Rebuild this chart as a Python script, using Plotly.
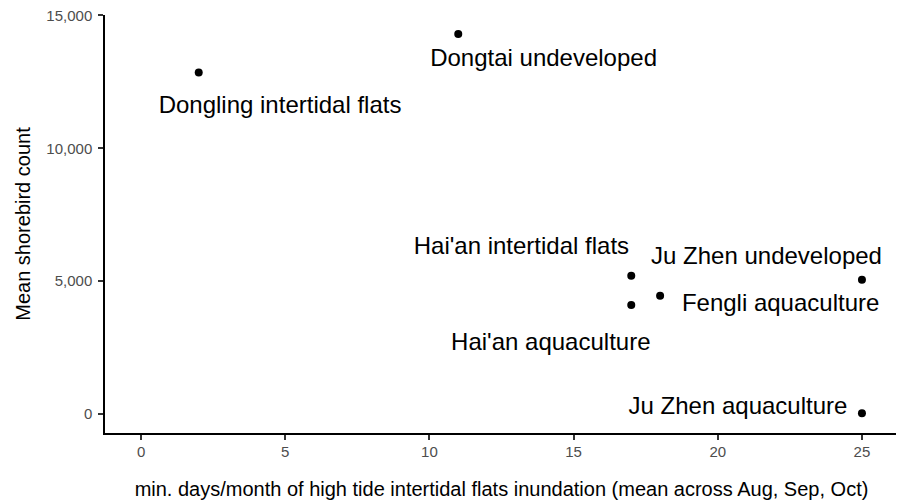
import plotly.graph_objects as go

sites = ["Dongling intertidal flats", "Dongtai undeveloped", "Hai'an intertidal flats",
         "Hai'an aquaculture", "Fengli aquaculture", "Ju Zhen undeveloped", "Ju Zhen aquaculture"]
days = [2, 11, 17, 17, 18, 25, 25]
counts = [12850, 14300, 5200, 4100, 4450, 5050, 25]
label_x = [4.82, 13.96, 13.19, 14.21, 22.18, 21.69, 20.70]
label_y = [11560, 13310, 6230, 2620, 4110, 5865, 240]

x_ticks = [0, 5, 10, 15, 20, 25]
y_ticks = [0, 5000, 10000, 15000]
y_tick_text = ["0", "5,000", "10,000", "15,000"]

FONT = "Liberation Sans, Arial, Helvetica, sans-serif"

fig = go.Figure()
fig.add_trace(go.Scatter(x=days, y=counts, mode="markers",
                         marker=dict(color="black", size=8), hoverinfo="skip"))
fig.add_trace(go.Scatter(x=label_x, y=label_y, mode="text", text=sites,
                         textposition="middle center",
                         textfont=dict(family=FONT, size=24, color="black"),
                         hoverinfo="skip"))

fig.update_layout(
    width=896, height=492,
    margin=dict(l=97, r=6, t=7, b=67),
    paper_bgcolor="white", plot_bgcolor="white",
    showlegend=False,
    font=dict(family=FONT),
    xaxis=dict(range=[-1.25, 26.25], tickvals=x_ticks, showgrid=False, zeroline=False,
               automargin=False,
               showline=True, linecolor="black", linewidth=1.5,
               ticks="outside", ticklen=5, tickwidth=1.5, tickcolor="#333333",
               tickfont=dict(size=15, color="#4D4D4D"), ticklabelstandoff=-1,
               title=dict(text="min. days/month of high tide intertidal flats inundation (mean across Aug, Sep, Oct)",
                          font=dict(size=20, color="black"), standoff=23)),
    yaxis=dict(range=[-715, 15015], tickvals=y_ticks, ticktext=y_tick_text,
               showgrid=False, zeroline=False,
               automargin=False,
               showline=True, linecolor="black", linewidth=1.5,
               ticks="outside", ticklen=5, tickwidth=1.5, tickcolor="#333333",
               tickfont=dict(size=15, color="#4D4D4D"), ticklabelstandoff=3,
               ticklabeloverflow="allow",
               title=dict(text="Mean shorebird count", font=dict(size=20, color="black"), standoff=10)),
)

fig.write_html("out.html")
